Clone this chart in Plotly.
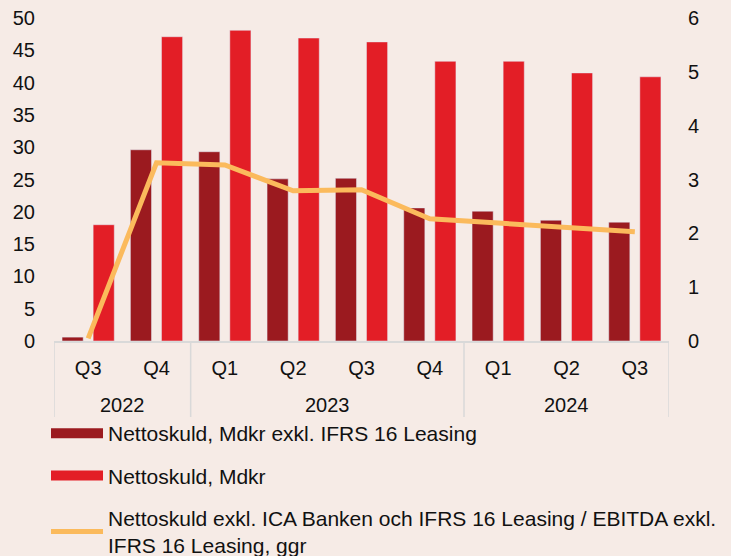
import plotly.graph_objects as go

years = ["2022", "2022", "2023", "2023", "2023", "2023", "2024", "2024", "2024"]
quarters = ["Q3", "Q4", "Q1", "Q2", "Q3", "Q4", "Q1", "Q2", "Q3"]
debt_excl_ifrs = [0.6, 29.6, 29.3, 25.1, 25.2, 20.6, 20.1, 18.7, 18.4]
debt_total = [18.0, 47.1, 48.1, 46.9, 46.3, 43.3, 43.3, 41.5, 40.9]
ratio = [0.05, 3.31, 3.27, 2.79, 2.81, 2.27, 2.19, 2.10, 2.03]

name1 = "Nettoskuld, Mdkr exkl. IFRS 16 Leasing"
name2 = "Nettoskuld, Mdkr"
name3 = "Nettoskuld exkl. ICA Banken och IFRS 16 Leasing / EBITDA exkl.<br>IFRS 16 Leasing, ggr"

c_dark = "#9B1A1F"
c_red = "#E31E26"
c_line = "#FBBA5C"
bg = "#F6EBE6"
grid = "#D9D9D9"
font = "Liberation Sans, Arial, sans-serif"

# unique category keys (year + quarter), shown with the quarter label only
cats = [f"{y} {q}" for y, q in zip(years, quarters)]
n = len(cats)

fig = go.Figure()
fig.add_trace(go.Bar(x=cats, y=debt_excl_ifrs, marker_color=c_dark, showlegend=False, name=name1))
fig.add_trace(go.Bar(x=cats, y=debt_total, marker_color=c_red, showlegend=False, name=name2))
fig.add_trace(go.Scatter(x=cats, y=ratio, yaxis="y2", mode="lines", showlegend=False,
                         line=dict(color=c_line, width=5), name=name3))
# legend entries
fig.add_trace(go.Scatter(x=[None], y=[None], mode="lines", line=dict(color=c_dark, width=10),
                         name=name1, legendgroup="a"))
fig.add_trace(go.Scatter(x=[None], y=[None], mode="lines", line=dict(color=c_red, width=10),
                         name=name2, legendgroup="b"))
fig.add_trace(go.Scatter(x=[None], y=[None], mode="lines", line=dict(color=c_line, width=5),
                         name=name3, legendgroup="c"))

# year group dividers and labels
div_y1 = -(417 - 341) / 323
year_y = -(405 - 341) / 323
bounds = [-0.5]
for i in range(1, n):
    if years[i] != years[i - 1]:
        bounds.append(i - 0.5)
bounds.append(n - 0.5)
for b in bounds:
    fig.add_shape(type="line", xref="x", yref="paper", x0=b, x1=b, y0=0, y1=div_y1,
                  line=dict(color=grid, width=1.5), layer="below")
for a, b in zip(bounds[:-1], bounds[1:]):
    grp = [i for i in range(n) if a < i < b]
    fig.add_annotation(x=(grp[0] + grp[-1]) / 2, y=year_y, xref="x", yref="paper",
                       text=years[grp[0]], showarrow=False, yanchor="middle",
                       font=dict(size=20, family=font, color="#111111"))

fig.update_layout(
    width=731, height=556,
    paper_bgcolor=bg, plot_bgcolor=bg,
    margin=dict(l=54, r=62, t=18, b=215, autoexpand=False),
    font=dict(family=font, size=20, color="#111111"),
    barmode="group", bargap=0.09, bargroupgap=0.32,
    showlegend=True,
    legend=dict(x=-0.013, y=-0.223, xanchor="left", yanchor="top", orientation="v",
                bgcolor="rgba(0,0,0,0)", font=dict(size=21), tracegroupgap=12,
                traceorder="grouped", itemwidth=52),
    xaxis=dict(type="category", showgrid=False, showline=True, linecolor=grid, linewidth=1.5,
               ticks="", tickmode="array", tickvals=cats, ticktext=quarters,
               ticklabelstandoff=8, tickfont=dict(size=20), range=[-0.5, n - 0.5]),
    yaxis=dict(range=[0, 50], dtick=5, showgrid=False, zeroline=False, showline=False,
               ticklabelstandoff=18, tickfont=dict(size=20)),
    yaxis2=dict(range=[0, 6], dtick=1, overlaying="y", side="right", showgrid=False,
                zeroline=False, showline=False, ticklabelstandoff=18, tickfont=dict(size=20)),
)

fig.write_html("out.html", config={"displayModeBar": False},
               post_script="document.body.style.margin='0';document.body.style.background='#F6EBE6';")
